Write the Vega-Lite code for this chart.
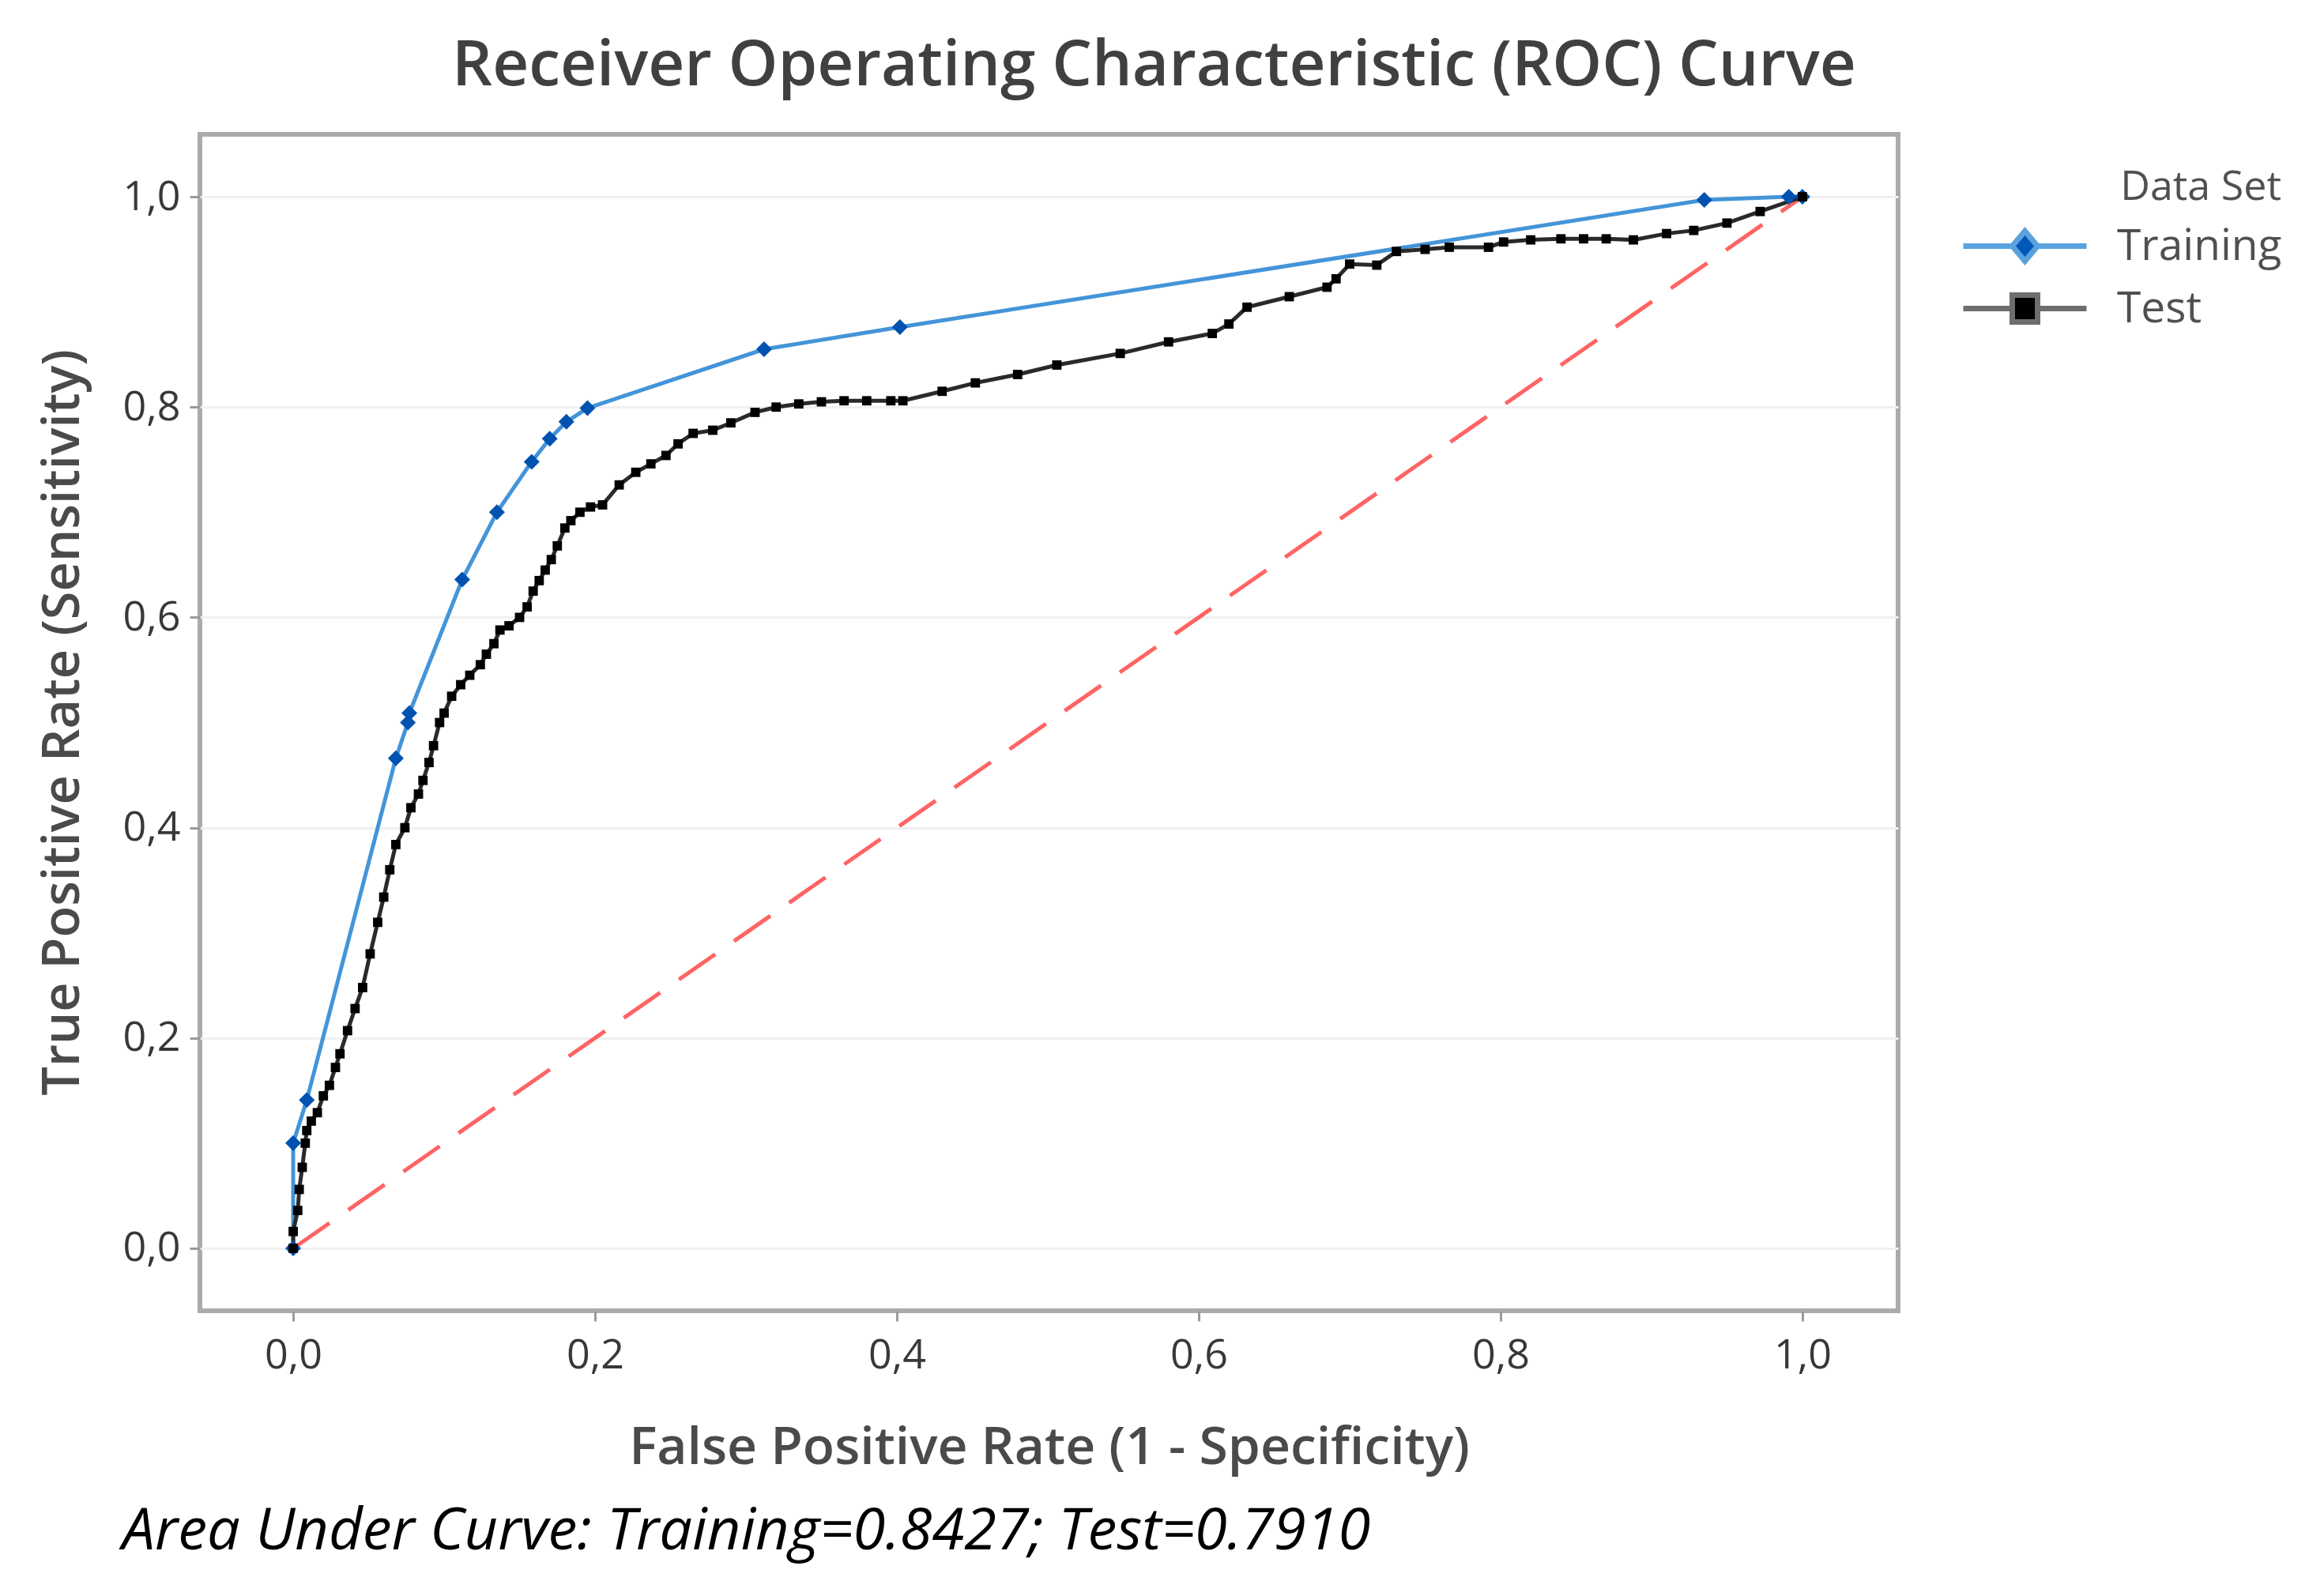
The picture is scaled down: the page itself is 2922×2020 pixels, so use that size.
{
  "$schema": "https://vega.github.io/schema/vega-lite/v6.json",
  "width": 2149,
  "height": 1489,
  "autosize": {"type": "none"},
  "padding": {"left": 253, "top": 170, "right": 520, "bottom": 361},
  "background": "white",
  "title": {
    "text": "Receiver Operating Characteristic (ROC) Curve",
    "anchor": "middle",
    "dx": 133,
    "offset": -18,
    "baseline": "alphabetic",
    "font": "Open Sans",
    "fontSize": 80,
    "fontWeight": 600,
    "color": "#404040"
  },
  "config": {
    "view": {"stroke": "#ababab", "strokeWidth": 6},
    "axis": {
      "gridColor": "#f0f0f0",
      "gridWidth": 3,
      "tickColor": "#9a9a9a",
      "tickWidth": 3,
      "tickSize": 13,
      "domain": false,
      "labelFont": "Open Sans",
      "labelFontSize": 52,
      "labelColor": "#383838",
      "titleFont": "Open Sans",
      "titleFontSize": 66,
      "titleFontWeight": 600,
      "titleColor": "#4a4a4a"
    }
  },
  "datasets": {
    "diag": [
      {"fpr": 0, "tpr": 0},
      {"fpr": 1, "tpr": 1}
    ],
    "roc": [
      {"set": "Training", "i": 0, "fpr": 0.000, "tpr": 0.000},
      {"set": "Training", "i": 1, "fpr": 0.000, "tpr": 0.100},
      {"set": "Training", "i": 2, "fpr": 0.009, "tpr": 0.141},
      {"set": "Training", "i": 3, "fpr": 0.068, "tpr": 0.466},
      {"set": "Training", "i": 4, "fpr": 0.076, "tpr": 0.500},
      {"set": "Training", "i": 5, "fpr": 0.077, "tpr": 0.509},
      {"set": "Training", "i": 6, "fpr": 0.112, "tpr": 0.636},
      {"set": "Training", "i": 7, "fpr": 0.135, "tpr": 0.700},
      {"set": "Training", "i": 8, "fpr": 0.158, "tpr": 0.748},
      {"set": "Training", "i": 9, "fpr": 0.170, "tpr": 0.770},
      {"set": "Training", "i": 10, "fpr": 0.181, "tpr": 0.786},
      {"set": "Training", "i": 11, "fpr": 0.195, "tpr": 0.799},
      {"set": "Training", "i": 12, "fpr": 0.312, "tpr": 0.855},
      {"set": "Training", "i": 13, "fpr": 0.402, "tpr": 0.876},
      {"set": "Training", "i": 14, "fpr": 0.935, "tpr": 0.997},
      {"set": "Training", "i": 15, "fpr": 0.991, "tpr": 1.000},
      {"set": "Training", "i": 16, "fpr": 1.000, "tpr": 1.000},
      {"set": "Test", "i": 0, "fpr": 0.000, "tpr": 0.000},
      {"set": "Test", "i": 1, "fpr": 0.000, "tpr": 0.016},
      {"set": "Test", "i": 2, "fpr": 0.003, "tpr": 0.036},
      {"set": "Test", "i": 3, "fpr": 0.004, "tpr": 0.056},
      {"set": "Test", "i": 4, "fpr": 0.006, "tpr": 0.077},
      {"set": "Test", "i": 5, "fpr": 0.008, "tpr": 0.100},
      {"set": "Test", "i": 6, "fpr": 0.009, "tpr": 0.112},
      {"set": "Test", "i": 7, "fpr": 0.012, "tpr": 0.121},
      {"set": "Test", "i": 8, "fpr": 0.016, "tpr": 0.129},
      {"set": "Test", "i": 9, "fpr": 0.020, "tpr": 0.145},
      {"set": "Test", "i": 10, "fpr": 0.024, "tpr": 0.155},
      {"set": "Test", "i": 11, "fpr": 0.028, "tpr": 0.172},
      {"set": "Test", "i": 12, "fpr": 0.031, "tpr": 0.185},
      {"set": "Test", "i": 13, "fpr": 0.036, "tpr": 0.207},
      {"set": "Test", "i": 14, "fpr": 0.041, "tpr": 0.228},
      {"set": "Test", "i": 15, "fpr": 0.046, "tpr": 0.248},
      {"set": "Test", "i": 16, "fpr": 0.051, "tpr": 0.280},
      {"set": "Test", "i": 17, "fpr": 0.056, "tpr": 0.310},
      {"set": "Test", "i": 18, "fpr": 0.060, "tpr": 0.334},
      {"set": "Test", "i": 19, "fpr": 0.064, "tpr": 0.360},
      {"set": "Test", "i": 20, "fpr": 0.068, "tpr": 0.384},
      {"set": "Test", "i": 21, "fpr": 0.074, "tpr": 0.400},
      {"set": "Test", "i": 22, "fpr": 0.078, "tpr": 0.419},
      {"set": "Test", "i": 23, "fpr": 0.083, "tpr": 0.432},
      {"set": "Test", "i": 24, "fpr": 0.086, "tpr": 0.445},
      {"set": "Test", "i": 25, "fpr": 0.090, "tpr": 0.462},
      {"set": "Test", "i": 26, "fpr": 0.093, "tpr": 0.478},
      {"set": "Test", "i": 27, "fpr": 0.097, "tpr": 0.500},
      {"set": "Test", "i": 28, "fpr": 0.100, "tpr": 0.509},
      {"set": "Test", "i": 29, "fpr": 0.105, "tpr": 0.525},
      {"set": "Test", "i": 30, "fpr": 0.111, "tpr": 0.536},
      {"set": "Test", "i": 31, "fpr": 0.117, "tpr": 0.545},
      {"set": "Test", "i": 32, "fpr": 0.124, "tpr": 0.555},
      {"set": "Test", "i": 33, "fpr": 0.128, "tpr": 0.565},
      {"set": "Test", "i": 34, "fpr": 0.133, "tpr": 0.575},
      {"set": "Test", "i": 35, "fpr": 0.137, "tpr": 0.588},
      {"set": "Test", "i": 36, "fpr": 0.143, "tpr": 0.592},
      {"set": "Test", "i": 37, "fpr": 0.150, "tpr": 0.600},
      {"set": "Test", "i": 38, "fpr": 0.155, "tpr": 0.610},
      {"set": "Test", "i": 39, "fpr": 0.159, "tpr": 0.625},
      {"set": "Test", "i": 40, "fpr": 0.163, "tpr": 0.635},
      {"set": "Test", "i": 41, "fpr": 0.167, "tpr": 0.645},
      {"set": "Test", "i": 42, "fpr": 0.171, "tpr": 0.655},
      {"set": "Test", "i": 43, "fpr": 0.175, "tpr": 0.668},
      {"set": "Test", "i": 44, "fpr": 0.180, "tpr": 0.685},
      {"set": "Test", "i": 45, "fpr": 0.184, "tpr": 0.692},
      {"set": "Test", "i": 46, "fpr": 0.190, "tpr": 0.700},
      {"set": "Test", "i": 47, "fpr": 0.197, "tpr": 0.705},
      {"set": "Test", "i": 48, "fpr": 0.205, "tpr": 0.707},
      {"set": "Test", "i": 49, "fpr": 0.216, "tpr": 0.726},
      {"set": "Test", "i": 50, "fpr": 0.227, "tpr": 0.738},
      {"set": "Test", "i": 51, "fpr": 0.237, "tpr": 0.746},
      {"set": "Test", "i": 52, "fpr": 0.247, "tpr": 0.754},
      {"set": "Test", "i": 53, "fpr": 0.255, "tpr": 0.765},
      {"set": "Test", "i": 54, "fpr": 0.265, "tpr": 0.775},
      {"set": "Test", "i": 55, "fpr": 0.278, "tpr": 0.778},
      {"set": "Test", "i": 56, "fpr": 0.290, "tpr": 0.785},
      {"set": "Test", "i": 57, "fpr": 0.306, "tpr": 0.795},
      {"set": "Test", "i": 58, "fpr": 0.320, "tpr": 0.800},
      {"set": "Test", "i": 59, "fpr": 0.335, "tpr": 0.803},
      {"set": "Test", "i": 60, "fpr": 0.350, "tpr": 0.805},
      {"set": "Test", "i": 61, "fpr": 0.365, "tpr": 0.806},
      {"set": "Test", "i": 62, "fpr": 0.380, "tpr": 0.806},
      {"set": "Test", "i": 63, "fpr": 0.396, "tpr": 0.806},
      {"set": "Test", "i": 64, "fpr": 0.404, "tpr": 0.806},
      {"set": "Test", "i": 65, "fpr": 0.430, "tpr": 0.815},
      {"set": "Test", "i": 66, "fpr": 0.452, "tpr": 0.823},
      {"set": "Test", "i": 67, "fpr": 0.480, "tpr": 0.831},
      {"set": "Test", "i": 68, "fpr": 0.506, "tpr": 0.840},
      {"set": "Test", "i": 69, "fpr": 0.548, "tpr": 0.851},
      {"set": "Test", "i": 70, "fpr": 0.580, "tpr": 0.862},
      {"set": "Test", "i": 71, "fpr": 0.609, "tpr": 0.870},
      {"set": "Test", "i": 72, "fpr": 0.620, "tpr": 0.879},
      {"set": "Test", "i": 73, "fpr": 0.632, "tpr": 0.895},
      {"set": "Test", "i": 74, "fpr": 0.660, "tpr": 0.905},
      {"set": "Test", "i": 75, "fpr": 0.685, "tpr": 0.914},
      {"set": "Test", "i": 76, "fpr": 0.691, "tpr": 0.922},
      {"set": "Test", "i": 77, "fpr": 0.700, "tpr": 0.936},
      {"set": "Test", "i": 78, "fpr": 0.718, "tpr": 0.935},
      {"set": "Test", "i": 79, "fpr": 0.731, "tpr": 0.948},
      {"set": "Test", "i": 80, "fpr": 0.750, "tpr": 0.950},
      {"set": "Test", "i": 81, "fpr": 0.766, "tpr": 0.952},
      {"set": "Test", "i": 82, "fpr": 0.792, "tpr": 0.952},
      {"set": "Test", "i": 83, "fpr": 0.802, "tpr": 0.957},
      {"set": "Test", "i": 84, "fpr": 0.820, "tpr": 0.959},
      {"set": "Test", "i": 85, "fpr": 0.840, "tpr": 0.960},
      {"set": "Test", "i": 86, "fpr": 0.855, "tpr": 0.960},
      {"set": "Test", "i": 87, "fpr": 0.870, "tpr": 0.960},
      {"set": "Test", "i": 88, "fpr": 0.888, "tpr": 0.959},
      {"set": "Test", "i": 89, "fpr": 0.910, "tpr": 0.965},
      {"set": "Test", "i": 90, "fpr": 0.928, "tpr": 0.968},
      {"set": "Test", "i": 91, "fpr": 0.950, "tpr": 0.975},
      {"set": "Test", "i": 92, "fpr": 0.972, "tpr": 0.986},
      {"set": "Test", "i": 93, "fpr": 1.000, "tpr": 1.000}
    ]
  },
  "resolve": {"axis": {"x": "independent"}},
  "layer": [
    {
      "data": {"name": "diag"},
      "mark": {"type": "line", "color": "#ff6363", "strokeWidth": 5, "strokeDash": [56, 29]},
      "encoding": {
        "x": {
          "field": "fpr", "type": "quantitative",
          "scale": {"domain": [-0.0618, 1.0634], "nice": false, "zero": false},
          "axis": {
            "orient": "bottom",
            "title": "Area Under Curve: Training=0.8427; Test=0.7910",
            "labels": false, "ticks": false, "grid": false, "domain": false,
            "titleFont": "Open Sans", "titleFontStyle": "italic", "titleFontSize": 74,
            "titleColor": "#000000", "titleFontWeight": "normal",
            "titleAnchor": "start", "titleAlign": "left", "titleBaseline": "middle",
            "titleX": -99, "titleY": 279
          }
        },
        "y": {
          "field": "tpr", "type": "quantitative",
          "scale": {"domain": [-0.0594, 1.0594], "nice": false, "zero": false},
          "axis": {
            "title": "True Positive Rate (Sensitivity)",
            "values": [0, 0.2, 0.4, 0.6, 0.8, 1.0],
            "labelExpr": "replace(format(datum.value, '.1f'), '.', ',')",
            "labelPadding": 12,
            "titleFontSize": 65,
            "titleBaseline": "middle",
            "titleX": -174,
            "titleY": 744
          }
        }
      }
    },
    {
      "data": {"name": "roc"},
      "mark": {"type": "line", "strokeWidth": 5},
      "encoding": {
        "x": {
          "field": "fpr", "type": "quantitative",
          "scale": {"domain": [-0.0618, 1.0634], "nice": false, "zero": false},
          "axis": {
            "orient": "bottom",
            "title": "False Positive Rate (1 - Specificity)",
            "values": [0, 0.2, 0.4, 0.6, 0.8, 1.0],
            "labelExpr": "replace(format(datum.value, '.1f'), '.', ',')",
            "labelPadding": 18,
            "titleBaseline": "middle",
            "titleY": 173
          }
        },
        "y": {"field": "tpr", "type": "quantitative"},
        "color": {
          "field": "set", "type": "nominal",
          "scale": {"domain": ["Test", "Training"], "range": ["#2a2a2a", "#4494d8"]},
          "legend": null
        },
        "order": {"field": "i", "type": "quantitative"}
      }
    },
    {
      "data": {"name": "roc"},
      "transform": [{"filter": "datum.set === 'Training'"}],
      "mark": {"type": "point", "filled": true, "shape": "diamond", "color": "#0052b0", "size": 400, "opacity": 1},
      "encoding": {
        "x": {"field": "fpr", "type": "quantitative", "axis": null},
        "y": {"field": "tpr", "type": "quantitative"}
      }
    },
    {
      "data": {"name": "roc"},
      "transform": [{"filter": "datum.set === 'Test'"}],
      "mark": {"type": "point", "filled": true, "shape": "square", "color": "#000000", "size": 140, "opacity": 1},
      "encoding": {
        "x": {"field": "fpr", "type": "quantitative", "axis": null},
        "y": {"field": "tpr", "type": "quantitative"}
      }
    },
    {
      "data": {"name": "roc"},
      "transform": [{"filter": "datum.set === 'legend-only'"}],
      "mark": {"type": "point", "filled": true, "strokeWidth": 7},
      "encoding": {
        "x": {"field": "fpr", "type": "quantitative", "axis": null},
        "y": {"field": "tpr", "type": "quantitative"},
        "fill": {
          "field": "set", "type": "nominal",
          "scale": {"domain": ["Training", "Test"], "range": ["#0058b8", "#000000"]},
          "legend": {
            "title": "Data Set", "orient": "none", "legendX": 2282, "legendY": 42,
            "padding": 0, "symbolSize": 1600, "symbolStrokeWidth": 7, "symbolOpacity": 1,
            "labelOffset": 89, "labelFont": "Open Sans", "labelFontSize": 55, "labelColor": "#505050",
            "titleFont": "Open Sans", "titleFontSize": 52, "titleColor": "#505050", "titleFontWeight": "normal",
            "titleAnchor": "end", "titlePadding": 20, "rowPadding": 14, "labelLimit": 500, "titleLimit": 500
          }
        },
        "stroke": {
          "field": "set", "type": "nominal",
          "scale": {"domain": ["Training", "Test"], "range": ["#5aa2de", "#6e6e6e"]},
          "legend": {
            "title": "Data Set", "orient": "none", "legendX": 2282, "legendY": 42,
            "padding": 0, "symbolSize": 1600, "symbolStrokeWidth": 7, "symbolOpacity": 1,
            "labelOffset": 89, "labelFont": "Open Sans", "labelFontSize": 55, "labelColor": "#505050",
            "titleFont": "Open Sans", "titleFontSize": 52, "titleColor": "#505050", "titleFontWeight": "normal",
            "titleAnchor": "end", "titlePadding": 20, "rowPadding": 14, "labelLimit": 500, "titleLimit": 500
          }
        },
        "shape": {
          "field": "set", "type": "nominal",
          "scale": {
            "domain": ["Training", "Test"],
            "range": [
              "M-3.9,0 L-0.8,0 M0.8,0 L3.9,0 M0,-0.95 L0.8,0 L0,0.95 L-0.8,0 Z",
              "M-3.9,0 L-0.8,0 M0.8,0 L3.9,0 M-0.8,-0.85 L0.8,-0.85 L0.8,0.85 L-0.8,0.85 Z"
            ]
          },
          "legend": {
            "title": "Data Set", "orient": "none", "legendX": 2282, "legendY": 42,
            "padding": 0, "symbolSize": 1600, "symbolStrokeWidth": 7, "symbolOpacity": 1,
            "labelOffset": 89, "labelFont": "Open Sans", "labelFontSize": 55, "labelColor": "#505050",
            "titleFont": "Open Sans", "titleFontSize": 52, "titleColor": "#505050", "titleFontWeight": "normal",
            "titleAnchor": "end", "titlePadding": 20, "rowPadding": 14, "labelLimit": 500, "titleLimit": 500
          }
        }
      }
    }
  ]
}
